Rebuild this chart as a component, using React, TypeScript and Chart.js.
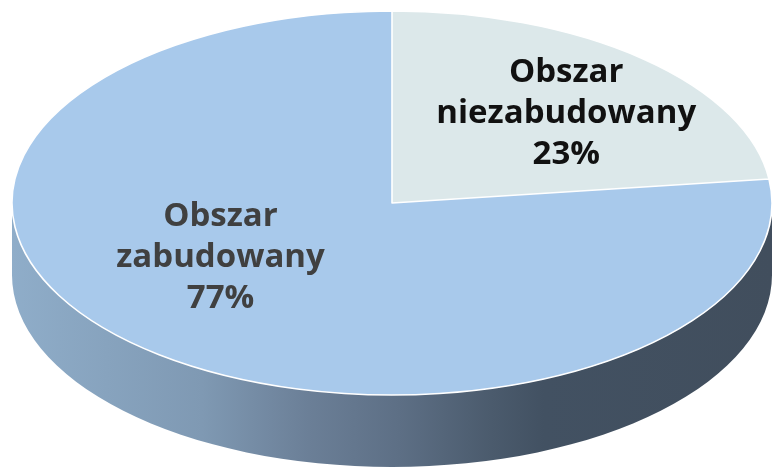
import React, { useEffect, useRef } from "react";
import { Chart, registerables } from "chart.js";

Chart.register(...registerables);

// ---- data ----
const categories = ["Obszar niezabudowany", "Obszar zabudowany"];
const values = [23, 77];
const labelLines = [
  ["Obszar", "niezabudowany"],
  ["Obszar", "zabudowany"],
];

// ---- style / layout ----
const sliceColors = ["#dce8ea", "#a8c9eb"];
const labelColors = ["#111111", "#404040"];
const W = 772;
const H = 470;
const CX = 392;
const CY = 203;
const RX = 380;
const RY = 192;
const DEPTH = 72;
const labelAngleShift = [6.3, 12.3]; // degrees, clockwise from the slice mid-angle
const labelRadius = [0.62, 0.56]; // fraction of radius
const LINE_H = 41;
const FONT = 'bold 33px "Open Sans"';

const sideStops: [number, string][] = [
  [0, "#8fadc9"],
  [0.25, "#7f99b3"],
  [0.39, "#6b7f97"],
  [0.51, "#5d6f85"],
  [0.63, "#4b5b6d"],
  [0.7, "#425162"],
  [1, "#414e5d"],
];

const pie3d = {
  id: "pie3d",
  beforeDatasetsDraw(chart: any) {
    const ctx: CanvasRenderingContext2D = chart.ctx;
    const meta = chart.getDatasetMeta(0);
    const arcs = meta.data;
    if (!arcs.length) return;
    const grad = ctx.createLinearGradient(CX - RX, 0, CX + RX, 0);
    sideStops.forEach(([t, c]) => grad.addColorStop(t, c));
    ctx.save();
    ctx.fillStyle = grad;
    arcs.forEach((arc: any) => {
      const { startAngle, endAngle } = arc.getProps(["startAngle", "endAngle"], true);
      for (const off of [-2 * Math.PI, 0, 2 * Math.PI]) {
        const a = Math.max(startAngle, off);
        const b = Math.min(endAngle, off + Math.PI);
        if (b > a) {
          ctx.beginPath();
          ctx.ellipse(CX, CY, RX, RY, 0, a, b, false);
          ctx.ellipse(CX, CY + DEPTH, RX, RY, 0, b, a, true);
          ctx.closePath();
          ctx.fill();
        }
      }
    });
    ctx.restore();
    const a0 = arcs[0];
    const { x, y, outerRadius } = a0.getProps(["x", "y", "outerRadius"], true);
    ctx.save();
    ctx.translate(CX, CY);
    ctx.scale(RX / outerRadius, RY / outerRadius);
    ctx.translate(-x, -y);
  },
  afterDatasetsDraw(chart: any) {
    const ctx: CanvasRenderingContext2D = chart.ctx;
    const meta = chart.getDatasetMeta(0);
    const arcs = meta.data;
    if (!arcs.length) return;
    // outlines built in the tilted space, stroked in screen space
    ctx.beginPath();
    arcs.forEach((arc: any) => {
      const { x, y, outerRadius, startAngle, endAngle } = arc.getProps(
        ["x", "y", "outerRadius", "startAngle", "endAngle"],
        true
      );
      ctx.moveTo(x, y);
      ctx.arc(x, y, outerRadius, startAngle, endAngle);
      ctx.closePath();
    });
    ctx.restore();
    ctx.save();
    ctx.strokeStyle = "#ffffff";
    ctx.lineWidth = 1.6;
    ctx.lineJoin = "round";
    ctx.stroke();
    ctx.restore();

    // labels
    const total = values.reduce((s, v) => s + v, 0);
    ctx.save();
    ctx.font = FONT;
    ctx.textAlign = "center";
    ctx.textBaseline = "alphabetic";
    arcs.forEach((arc: any, i: number) => {
      const { startAngle, endAngle } = arc.getProps(["startAngle", "endAngle"], true);
      const mid = (startAngle + endAngle) / 2 + (labelAngleShift[i] * Math.PI) / 180;
      const px = CX + RX * labelRadius[i] * Math.cos(mid);
      const py = CY + RY * labelRadius[i] * Math.sin(mid);
      const pct = Math.round((values[i] / total) * 100) + "%";
      const lines = [...labelLines[i], pct];
      ctx.fillStyle = labelColors[i];
      lines.forEach((ln, k) => {
        ctx.fillText(ln, px, py + (k - 1) * LINE_H);
      });
    });
    ctx.restore();
  },
};

export default function App() {
  const ref = useRef<HTMLCanvasElement | null>(null);
  useEffect(() => {
    if (!ref.current) return;
    const chart = new Chart(ref.current, {
      type: "pie",
      data: {
        labels: categories,
        datasets: [
          {
            data: values,
            backgroundColor: sliceColors,
            borderWidth: 0,
            clip: false as any,
          },
        ],
      },
      options: {
        responsive: false,
        animation: false,
        devicePixelRatio: 1,
        events: [],
        layout: { padding: 0 },
        plugins: {
          legend: { display: false },
          tooltip: { enabled: false },
        },
      },
      plugins: [pie3d as any],
    });
    return () => chart.destroy();
  }, []);
  return (
    <div style={{ position: "fixed", left: 0, top: 0, width: W, height: H, background: "#fff" }}>
      <canvas ref={ref} width={W} height={H} style={{ display: "block", width: W, height: H }} />
    </div>
  );
}
